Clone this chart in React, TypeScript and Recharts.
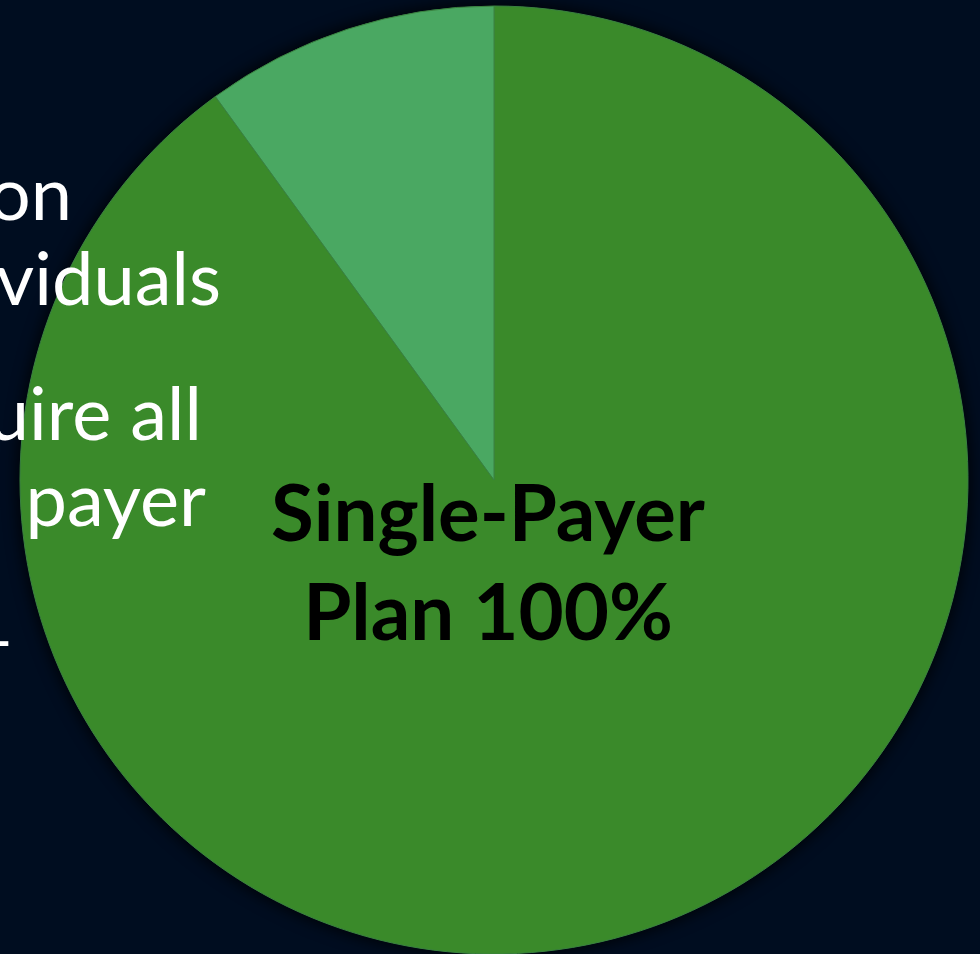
import React from 'react';
import { PieChart, Pie, Cell } from 'recharts';

const categories = ['Single-Payer Plan', 'Other'];
const shares = [90, 10];
const sliceColors = ['#3a8a2a', '#4aa862'];
const mainLabel = ['Single-Payer', 'Plan 100%'];
// slide text partly hidden behind the pie (cut off at the left edge)
const slideLines = ['on', 'viduals', 'uire all', 'payer', '–'];

const data = categories.map((name, i) => ({ name, value: shares[i] }));

const bg = '#000d20';
const fontStack = 'Lato, "Open Sans", sans-serif';

const renderLabel = (props: any) => {
  if (props.index !== 0) return null;
  const { cx, cy } = props;
  return (
    <text
      x={cx - 6}
      textAnchor="middle"
      fill="#000"
      style={{ fontFamily: fontStack, fontWeight: 700, fontSize: 78 }}
    >
      <tspan x={cx - 6} y={cy + 61}>{mainLabel[0]}</tspan>
      <tspan x={cx - 6} y={cy + 160}>{mainLabel[1]}</tspan>
    </text>
  );
};

const App: React.FC = () => {
  const lineX = [72, 221, 202, 206, 15];
  const lineY = [220, 305, 440, 526, 665];
  return (
    <div style={{ position: 'fixed', left: 0, top: 0, width: 980, height: 954, background: bg, overflow: 'hidden' }}>
      <div
        style={{
          position: 'absolute', left: 20, top: 6, width: 948, height: 948, borderRadius: '50%',
          boxShadow: '0 0 14px 4px rgba(0,0,0,0.7)',
        }}
      />
      <PieChart width={980} height={954} margin={{ top: 0, right: 0, bottom: 0, left: 0 }} style={{ position: 'absolute', left: 0, top: 0 }}>
        <Pie
          data={data}
          dataKey="value"
          nameKey="name"
          cx={494}
          cy={480}
          outerRadius={474}
          startAngle={90}
          endAngle={-270}
          stroke="#3a8240"
          strokeWidth={1}
          label={renderLabel}
          labelLine={false}
          isAnimationActive={false}
        >
          {data.map((d, i) => (
            <Cell key={d.name} fill={sliceColors[i]} />
          ))}
        </Pie>
      </PieChart>
      <svg width={980} height={954} style={{ position: 'absolute', left: 0, top: 0, pointerEvents: 'none' }}>
        {slideLines.map((t, i) => (
          <text
            key={i}
            x={lineX[i]}
            y={lineY[i]}
            textAnchor="end"
            fill="#fff"
            style={{ fontFamily: fontStack, fontSize: 74 }}
          >
            {t}
          </text>
        ))}
      </svg>
    </div>
  );
};

export default App;
